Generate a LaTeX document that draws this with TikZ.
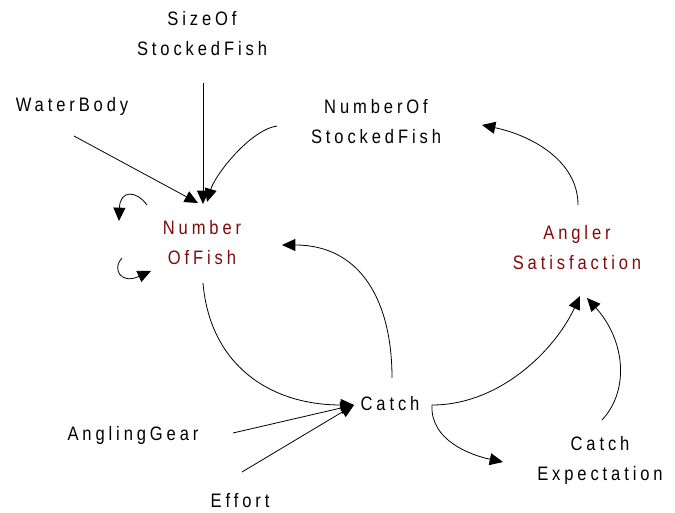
\documentclass[tikz,border=0pt]{standalone}
\usepackage{fontspec}
\setmainfont{Liberation Sans}[FakeStretch=0.85,LetterSpace=20]
\usetikzlibrary{arrows.meta,calc}
\definecolor{stockred}{RGB}{128,10,10}
\begin{document}
\begin{tikzpicture}[x=0.75pt,y=-0.75pt,
  var/.style={align=center,inner sep=0pt,font=\fontsize{14.6}{22.5}\selectfont},
  stock/.style={var,text=stockred},
  link/.style={line width=0.6pt,-{Triangle[length=10pt,width=9pt]}}]
\useasboundingbox (0,0) rectangle (675,513);

\node[var] (size) at (202,34) {SizeOf\\StockedFish};
\node[var] (water) at (72,106) {WaterBody};
\node[var] (nstock) at (376,122) {NumberOf\\StockedFish};
\node[stock] (nof) at (202,243) {Number\\OfFish};
\node[stock] (angler) at (577,248) {Angler\\Satisfaction};
\node[var] (catch) at (390,404) {Catch};
\node[var] (gear) at (133,435) {AnglingGear};
\node[var] (effort) at (240,501) {Effort};
\node[var] (expect) at (600,460) {Catch\\Expectation};

\draw[link] ($(size)+(1,49)$) -- ($(nof)+(1,-39)$);
\draw[link] ($(water)+(2,30)$) -- ($(nof)+(-4,-40)$);
\draw[link] ($(nstock)+(-99,4)$) .. controls (250,130) and (215,175) .. ($(nof)+(5,-41)$);
\draw[link] ($(nof)+(-55,-38)$) .. controls (136,190) and (120,190) .. ($(nof)+(-83,-22)$);
\draw[link] ($(nof)+(-80,15)$) .. controls (112,268) and (120,285) .. ($(nof)+(-51,28)$);
\draw[link] ($(nof)+(1,40)$) .. controls (210,365) and (270,405) .. ($(catch)+(-36,1)$);
\draw[link] ($(gear)+(100,-2)$) -- ($(catch)+(-36,1)$);
\draw[link] ($(effort)+(2,-29)$) -- ($(catch)+(-36,1)$);
\draw[link] ($(catch)+(2,-26)$) .. controls (392,300) and (360,245) .. ($(nof)+(80,2)$);
\draw[link] ($(catch)+(42,1)$) .. controls (500,405) and (555,350) .. ($(angler)+(3,48)$);
\draw[link] ($(catch)+(42,1)$) .. controls (430,440) and (470,455) .. ($(expect)+(-97,2)$);
\draw[link] ($(expect)+(2,-40)$) .. controls (630,390) and (625,340) .. ($(angler)+(10,50)$);
\draw[link] ($(angler)+(1,-43)$) .. controls (578,160) and (530,135) .. ($(nstock)+(106,3)$);

\end{tikzpicture}
\end{document}
